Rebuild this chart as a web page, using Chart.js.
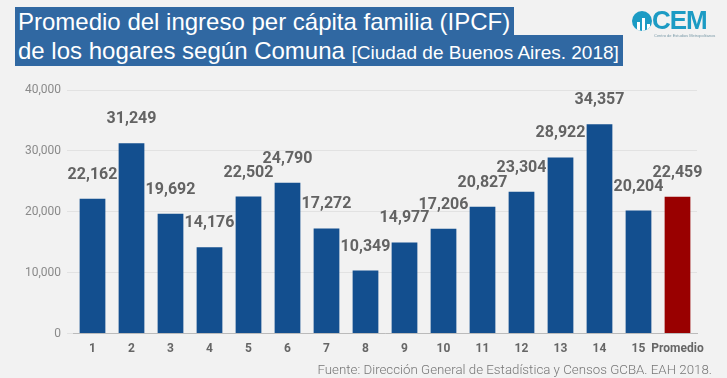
<!DOCTYPE html>
<html>
<head>
<meta charset="utf-8">
<script src="https://cdn.jsdelivr.net/npm/chart.js@4"></script>
<style>
  html, body { margin: 0; padding: 0; background: #f2f2f2; }
  #wrap { position: relative; width: 727px; height: 378px; overflow: hidden; }
  #chart { position: absolute; left: 0; top: 0; }
  .tl { position: absolute; left: 15px; background: #3068a2; color: #fff;
        font-family: "Liberation Sans", Arial, sans-serif; white-space: nowrap; }
  #t1 { top: 7px; height: 28px; line-height: 29px; font-size: 24px; padding: 0 4px 0 3px; }
  #t2 { top: 35px; height: 31px; line-height: 31px; font-size: 24px; padding: 0 4px 0 3px; }
  #t2 small { font-size: 19px; }
  #logo { position: absolute; left: 630px; top: 6px; width: 90px; height: 32px; }
  #logo .ic { position: absolute; left: 2px; top: 5px; width: 20px; height: 20px; border-radius: 50%;
              background: #1c9bc4; overflow: hidden; }
  #logo .ic i { position: absolute; bottom: 0; width: 3px; background: #fff; }
  #logo .tx { position: absolute; left: 22px; top: -1px; font-family: "Liberation Sans", sans-serif;
              font-weight: bold; font-size: 26px; color: #1c9bc4; letter-spacing: -1px; }
  #logo .sb { position: absolute; left: 24px; top: 27px; font-family: "Liberation Sans", sans-serif;
              font-size: 4px; color: #7a9aa8; white-space: nowrap; }
  #src { position: absolute; right: 15px; top: 362px; font-family: Roboto, sans-serif; font-weight: 300;
         font-size: 13.3px; color: #777; white-space: nowrap; }
</style>
</head>
<body>
<div id="wrap">
  <canvas id="chart" width="727" height="378"></canvas>
  <div class="tl" id="t1">Promedio del ingreso per cápita familia (IPCF)</div>
  <div class="tl" id="t2">de los hogares según Comuna <small>[Ciudad de Buenos Aires. 2018]</small></div>
  <div id="logo">
    <div class="ic"><i style="left:5px;height:9px"></i><i style="left:10px;height:13px"></i><i style="left:15px;height:7px"></i></div>
    <div class="tx">CEM</div>
    <div class="sb">Centro de Estudios Metropolitanos</div>
  </div>
  <div id="src">Fuente: Dirección General de Estadística y Censos GCBA. EAH 2018.</div>
</div>
<script>
const comunas = ["1", "2", "3", "4", "5", "6", "7", "8", "9", "10", "11", "12", "13", "14", "15", "Promedio"];
const ingreso = [22162, 31249, 19692, 14176, 22502, 24790, 17272, 10349, 14977, 17206, 20827, 23304, 28922, 34357, 20204, 22459];
const colores = comunas.map(c => c === "Promedio" ? "#990000" : "#134f8f");

// etiquetas arriba de cada barra
const etiquetas = {
    id: "etiquetas",
    afterDatasetsDraw(chart) {
        const ctx = chart.ctx;
        const meta = chart.getDatasetMeta(0);
        ctx.save();
        ctx.font = "bold 16px Roboto";
        ctx.fillStyle = "#636363";
        ctx.textAlign = "center";
        ctx.textBaseline = "alphabetic";
        meta.data.forEach((bar, i) => {
            ctx.fillText(ingreso[i].toLocaleString("en-US"), bar.x, bar.y - 20);
        });
        ctx.restore();
    }
};

const ctx = document.getElementById("chart").getContext("2d");
const chart = new Chart(ctx, {
    type: "bar",
    data: {
        labels: comunas,
        datasets: [
            {
                data: ingreso,
                backgroundColor: colores,
                barPercentage: 0.66,
                categoryPercentage: 1,
            },
        ],
    },
    options: {
        responsive: false,
        animation: false,
        layout: { padding: { top: 90, right: 30, bottom: 14, left: 0 } },
        plugins: { legend: { display: false }, tooltip: { enabled: false } },
        scales: {
            x: {
                grid: { display: false, drawTicks: false, tickLength: 0 },
                border: { color: "#bbbbbb" },
                ticks: {
                    color: "#666666",
                    font: { family: "Roboto", size: 12, weight: "bold" },
                    padding: 8,
                    maxRotation: 0,
                    autoSkip: false,
                },
            },
            y: {
                min: 0,
                max: 40000,
                afterFit(scale) { scale.width = 73; },
                grid: { color: "#e2e2e2", tickLength: 6 },
                border: { display: false },
                ticks: {
                    stepSize: 10000,
                    color: "#8a8a8a",
                    padding: 6,
                    font: { family: "Roboto", size: 12 },
                    callback: v => v.toLocaleString("en-US"),
                },
            },
        },
    },
    plugins: [etiquetas],
});
</script>
</body>
</html>
